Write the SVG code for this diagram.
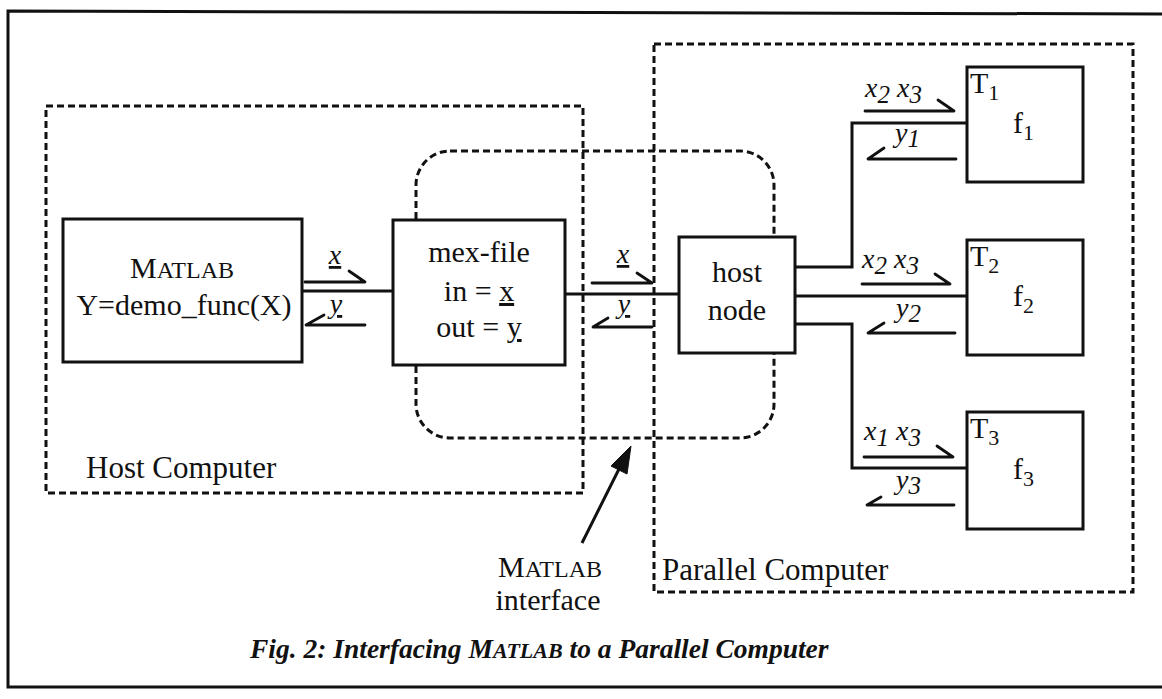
<svg xmlns="http://www.w3.org/2000/svg" width="1162" height="699" viewBox="0 0 1162 699">
<style>
.bg{fill:#ffffff}
.frame{fill:none;stroke:#111;stroke-width:3}
.box{fill:#ffffff;stroke:#111;stroke-width:3}
.dash{fill:none;stroke:#111;stroke-width:3;stroke-dasharray:7 4}
.wire{fill:none;stroke:#111;stroke-width:3}
.half{fill:none;stroke:#111;stroke-width:2.8;stroke-linecap:round;stroke-linejoin:round}
.lbl{font-family:"Liberation Serif","Times New Roman",serif;font-size:30px;fill:#111}
.big{font-family:"Liberation Serif","Times New Roman",serif;font-size:31px;fill:#111}
.it{font-family:"Liberation Serif","Times New Roman",serif;font-style:italic;font-size:28px;fill:#111}
.ul{font-family:"Liberation Serif","Times New Roman",serif;font-style:italic;font-size:28px;fill:#111;text-decoration:underline}
.tk{font-family:"Liberation Serif","Times New Roman",serif;font-size:30px;fill:#111}
.cap{font-family:"Liberation Serif","Times New Roman",serif;font-style:italic;font-weight:bold;font-size:27.5px;fill:#111}
</style>
<rect class="bg" x="0" y="0" width="1162" height="699"/>
<polyline class="frame" points="1162,14 8,11 8,687 1162,687"/>

<g id="host-computer">
  <rect class="dash" x="46" y="106" width="537" height="387"/>
  <text class="big" x="86" y="478">Host Computer</text>
</g>
<g id="parallel-computer">
  <rect class="dash" x="654" y="44" width="479" height="548"/>
  <text class="big" x="662" y="580">Parallel Computer</text>
</g>
<g id="matlab-interface-region">
  <rect class="dash" x="416" y="151" width="358" height="287" rx="34" ry="34"/>
</g>

<g id="matlab">
  <rect class="box" x="63" y="219" width="239" height="143"/>
  <text class="lbl" x="182" y="278" text-anchor="middle">M<tspan font-size="24">ATLAB</tspan></text>
  <text class="lbl" x="184" y="315" text-anchor="middle">Y=demo_func(X)</text>
</g>
<g id="mex-file">
  <rect class="box" x="393" y="220" width="172" height="145"/>
  <text class="lbl" x="479" y="262" text-anchor="middle">mex-file</text>
  <text class="lbl" x="479" y="301" text-anchor="middle">in = <tspan text-decoration="underline">x</tspan></text>
  <text class="lbl" x="479" y="337" text-anchor="middle">out = <tspan text-decoration="underline">y</tspan></text>
</g>
<g id="host-node">
  <rect class="box" x="679" y="237" width="116" height="116"/>
  <text class="lbl" x="737" y="282" text-anchor="middle">host</text>
  <text class="lbl" x="737" y="320" text-anchor="middle">node</text>
</g>
<g id="t1">
  <rect class="box" x="967" y="67" width="116" height="115"/>
  <text class="tk" x="970" y="93">T<tspan font-size="22" dy="7">1</tspan></text>
  <text class="tk" x="1013" y="133">f<tspan font-size="22" dy="7">1</tspan></text>
</g>
<g id="t2">
  <rect class="box" x="967" y="240" width="116" height="115"/>
  <text class="tk" x="970" y="266">T<tspan font-size="22" dy="7">2</tspan></text>
  <text class="tk" x="1013" y="306">f<tspan font-size="22" dy="7">2</tspan></text>
</g>
<g id="t3">
  <rect class="box" x="967" y="412" width="116" height="117"/>
  <text class="tk" x="970" y="438">T<tspan font-size="22" dy="7">3</tspan></text>
  <text class="tk" x="1013" y="479">f<tspan font-size="22" dy="7">3</tspan></text>
</g>

<g id="connectors">
  <line class="wire" x1="302" y1="291" x2="393" y2="291"/>
  <line class="wire" x1="565" y1="294" x2="679" y2="294"/>
  <polyline class="wire" points="795,267 852,267 852,123 967,123"/>
  <line class="wire" x1="795" y1="296" x2="967" y2="296"/>
  <polyline class="wire" points="795,324 852,324 852,468 967,468"/>

  <path class="half" d="M305,282 H365 L349,271"/>
  <path class="half" d="M365,325 H306 L324,315"/>
  <path class="half" d="M592,283 H652 L637,273"/>
  <path class="half" d="M652,327 H593 L608,318"/>

  <path class="half" d="M865,111 H954 L938,100"/>
  <path class="half" d="M956,159 H868 L884,148"/>
  <path class="half" d="M862,284 H950 L935,274"/>
  <path class="half" d="M955,333 H868 L884,323"/>
  <path class="half" d="M864,457 H953 L937,446"/>
  <path class="half" d="M954,505 H867 L881,497"/>

  <line class="wire" x1="582" y1="543" x2="620" y2="467"/>
  <polygon points="631,446 627,474 611,466" fill="#111" stroke="#111" stroke-width="1"/>
</g>

<g id="connector-labels">
  <text class="ul" x="335" y="264" text-anchor="middle">x</text>
  <text class="ul" x="336" y="313" text-anchor="middle">y</text>
  <text class="ul" x="623" y="263" text-anchor="middle">x</text>
  <text class="ul" x="624" y="313" text-anchor="middle">y</text>

  <text class="it" x="865" y="97">x<tspan font-size="25" dy="6">2</tspan><tspan dy="-6"> x</tspan><tspan font-size="25" dy="6">3</tspan></text>
  <text class="it" x="895" y="142">y<tspan font-size="25" dy="5">1</tspan></text>
  <text class="it" x="862" y="268">x<tspan font-size="25" dy="6">2</tspan><tspan dy="-6"> x</tspan><tspan font-size="25" dy="6">3</tspan></text>
  <text class="it" x="896" y="317">y<tspan font-size="25" dy="5">2</tspan></text>
  <text class="it" x="864" y="440">x<tspan font-size="25" dy="6">1</tspan><tspan dy="-6"> x</tspan><tspan font-size="25" dy="6">3</tspan></text>
  <text class="it" x="896" y="489">y<tspan font-size="25" dy="5">3</tspan></text>
</g>

<g id="matlab-interface-label">
  <text class="lbl" x="550" y="577" text-anchor="middle">M<tspan font-size="24">ATLAB</tspan></text>
  <text class="lbl" x="548" y="610" text-anchor="middle">interface</text>
</g>

<g id="caption">
  <text class="cap" x="250" y="658">Fig. 2: Interfacing M<tspan font-size="22">ATLAB</tspan> to a Parallel Computer</text>
</g>
</svg>
